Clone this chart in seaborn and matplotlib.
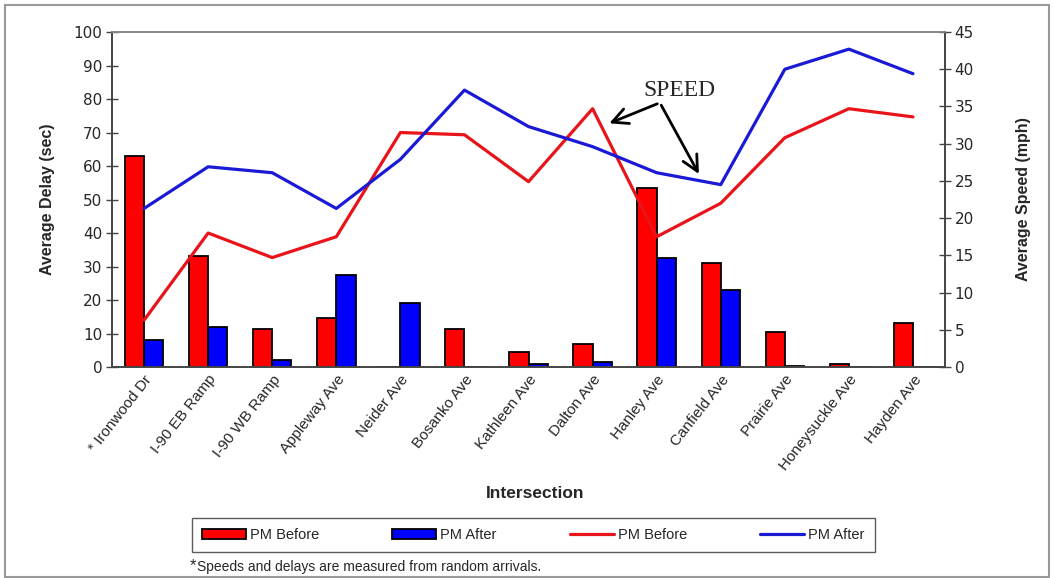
import matplotlib
matplotlib.use("Agg")
import matplotlib.pyplot as plt
import numpy as np
import pandas as pd
import seaborn as sns
from matplotlib.patches import Rectangle

# data
intersections = ["* Ironwood Dr", "I-90 EB Ramp", "I-90 WB Ramp", "Appleway Ave",
                 "Neider Ave", "Bosanko Ave", "Kathleen Ave", "Dalton Ave",
                 "Hanley Ave", "Canfield Ave", "Prairie Ave", "Honeysuckle Ave",
                 "Hayden Ave"]
delay_before = [63, 33, 11.5, 14.5, 0, 11.5, 4.5, 7, 53.5, 31, 10.5, 1, 13]
delay_after = [8, 12, 2, 27.5, 19, 0, 1, 1.5, 32.5, 23, 0.3, 0, 0]
speed_before = [6.3, 18.0, 14.7, 17.5, 31.5, 31.2, 24.9, 34.7, 17.5, 22.0, 30.8, 34.7, 33.6]
speed_after = [21.3, 26.9, 26.1, 21.3, 27.9, 37.2, 32.3, 29.6, 26.1, 24.5, 40.0, 42.7, 39.4]

RED = "#ff0000"
BLUE = "#0000ff"
LRED = "#e8141a"
LBLUE = "#1a1ad6"

n = len(intersections)
pos = np.arange(n)

bars = pd.DataFrame({
    "Intersection": intersections * 2,
    "delay": delay_before + delay_after,
    "period": ["PM Before"] * n + ["PM After"] * n,
})
lines = pd.DataFrame({
    "pos": np.concatenate([pos, pos]),
    "speed": speed_before + speed_after,
    "period": ["PM Before"] * n + ["PM After"] * n,
})

sns.set_style("white")
plt.rcParams["font.family"] = ["Liberation Sans", "DejaVu Sans"]

fig = plt.figure(figsize=(10.54, 5.78), dpi=100)
ax = fig.add_axes([0.1063, 0.365, 0.7903, 0.5796])

sns.barplot(data=bars, x="Intersection", y="delay", hue="period",
            hue_order=["PM Before", "PM After"],
            palette={"PM Before": RED, "PM After": BLUE},
            width=0.6, edgecolor="black", linewidth=1.3, saturation=1, ax=ax)
h1, l1 = ax.get_legend_handles_labels()
ax.get_legend().remove()

ax2 = ax.twinx()
sns.lineplot(data=lines, x="pos", y="speed", hue="period",
             hue_order=["PM Before", "PM After"],
             palette={"PM Before": LRED, "PM After": LBLUE},
             linewidth=2.3, ax=ax2)
h2, l2 = ax2.get_legend_handles_labels()
ax2.get_legend().remove()

ax.set_xlim(-0.5, n - 0.5)
ax.set_ylim(0, 100)
ax.set_yticks(range(0, 101, 10))
ax2.set_ylim(0, 45)
ax2.set_yticks(range(0, 46, 5))

# ticks at category boundaries, labels at centres
ax.set_xticks(np.arange(-0.5, n, 1.0))
ax.set_xticklabels([])
ax.set_xticks(pos, minor=True)
ax.set_xticklabels(intersections, minor=True, rotation=52, ha="right",
                   rotation_mode="anchor", fontsize=11)
ax.tick_params(axis="x", which="major", direction="inout", length=8, width=1, color="#444444")
ax.tick_params(axis="x", which="minor", length=0, pad=4)
ax.tick_params(axis="y", direction="inout", length=8, width=1, color="#444444",
               labelsize=11, pad=3)
ax2.tick_params(axis="y", direction="inout", length=8, width=1, color="#444444",
                labelsize=11, pad=3)
for lab in ax.get_yticklabels() + ax2.get_yticklabels():
    lab.set_family("DejaVu Sans")

for a in (ax, ax2):
    for side in ["left", "right", "bottom"]:
        a.spines[side].set_color("#444444")
        a.spines[side].set_linewidth(1.2)
    a.spines["top"].set_color("#888888")
    a.spines["top"].set_linewidth(1.2)

ax.set_xlabel("Intersection", fontsize=12.5, fontweight="bold")
ax.xaxis.set_label_coords(0.508, -0.355)
ax.set_ylabel("Average Delay (sec)", fontsize=11.5, fontweight="bold", labelpad=13)
ax2.set_ylabel("Average Speed (mph)", fontsize=11.5, fontweight="bold", labelpad=30)

# SPEED callout
for tip in [(7.22, 32.6), (8.68, 25.6)]:
    ax2.annotate("", xy=tip, xytext=(8.05, 35.5),
                 arrowprops=dict(arrowstyle="->", color="black", lw=2,
                                 mutation_scale=28))
ax2.text(8.36, 37.2, "SPEED", family="Liberation Serif", fontsize=17,
         ha="center", va="center")

fig.legend(h1 + h2, l1 + l2, loc="center", bbox_to_anchor=(0.506, 0.074),
           ncol=4, frameon=True, fancybox=False, edgecolor="#333333",
           fontsize=10.5, handlelength=3.0, columnspacing=5.0,
           borderpad=0.7, handletextpad=0.3)

fig.text(0.180, 0.013, "*", fontsize=12)
fig.text(0.187, 0.012, "Speeds and delays are measured from random arrivals.", fontsize=10)

fig.patches.append(Rectangle((0.005, 0.002), 0.99, 0.99, transform=fig.transFigure,
                             fill=False, edgecolor="#999999", linewidth=1.5))

fig.savefig("out.png", dpi=100)
